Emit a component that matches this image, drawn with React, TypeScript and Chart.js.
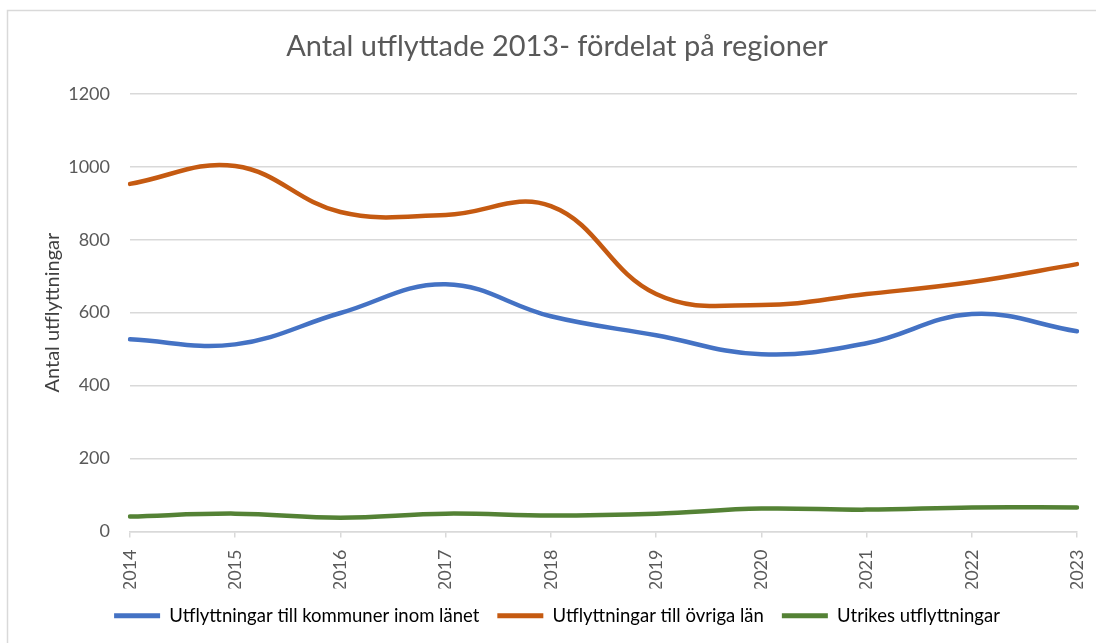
import React, { useEffect, useRef } from "react";
import { Chart, registerables } from "chart.js";

Chart.register(...registerables);

const years = ["2014", "2015", "2016", "2017", "2018", "2019", "2020", "2021", "2022", "2023"];
const inomLanet = [527, 513, 599, 678, 590, 538, 486, 516, 596, 549];
const ovrigaLan = [953, 1002, 876, 868, 892, 651, 621, 651, 684, 733];
const utrikes = [41, 49, 38, 49, 44, 49, 63, 60, 66, 66];
const yTicks = [0, 200, 400, 600, 800, 1000, 1200];

const FONT = "Lato, 'Open Sans', sans-serif";
const GRAY = "#595959";

const borderPlugin = {
  id: "outerBorder",
  beforeDraw(chart: any) {
    const ctx = chart.ctx;
    ctx.save();
    ctx.fillStyle = "#ffffff";
    ctx.fillRect(0, 0, chart.width, chart.height);
    ctx.strokeStyle = "#d9d9d9";
    ctx.lineWidth = 1.5;
    ctx.beginPath();
    ctx.moveTo(7.5, chart.height);
    ctx.lineTo(7.5, 10.5);
    ctx.lineTo(chart.width, 10.5);
    ctx.stroke();
    ctx.restore();
  },
};

export default function App() {
  const ref = useRef<HTMLCanvasElement>(null);
  useEffect(() => {
    document.body.style.margin = "0";
    const chart = new Chart(ref.current!, {
      type: "line",
      data: {
        labels: years,
        datasets: [
          { label: "Utflyttningar till kommuner inom länet", data: inomLanet, borderColor: "#4472c4", backgroundColor: "#4472c4" },
          { label: "Utflyttningar till övriga län", data: ovrigaLan, borderColor: "#c55a11", backgroundColor: "#c55a11" },
          { label: "Utrikes utflyttningar", data: utrikes, borderColor: "#548235", backgroundColor: "#548235" },
        ].map((d) => ({ ...d, borderWidth: 4.5, pointRadius: 0, tension: 0.4, borderCapStyle: "round" as const })),
      },
      options: {
        animation: false,
        responsive: false,
        layout: { padding: { top: 22, left: 37, right: 19, bottom: 8 } },
        plugins: {
          title: {
            display: true,
            text: "Antal utflyttade 2013- fördelat på regioner",
            color: GRAY,
            font: { family: FONT, size: 29, weight: "normal" },
            padding: { top: 7, bottom: 30 },
          },
          legend: {
            position: "bottom",
            labels: {
              color: GRAY,
              font: { family: FONT, size: 18.5 },
              boxWidth: 46,
              boxHeight: 5,
              padding: 18,
              generateLabels: (chart: any) =>
                chart.data.datasets.map((ds: any, i: number) => ({
                  text: ds.label,
                  fillStyle: ds.borderColor,
                  strokeStyle: ds.borderColor,
                  lineWidth: 0,
                  datasetIndex: i,
                })),
            },
          },
          tooltip: { enabled: false },
        },
        scales: {
          x: {
            grid: { display: true, drawOnChartArea: false, drawTicks: true, tickLength: 6, color: "#d9d9d9", lineWidth: 1.5 },
            border: { display: true, color: "#d9d9d9", width: 1.5 },
            offset: false,
            ticks: { color: GRAY, font: { family: FONT, size: 18 }, maxRotation: 90, minRotation: 90, padding: 12 },
            afterFit: (s: any) => { s.height = 57; s.paddingLeft = 0; s.paddingRight = 0; },
          },
          y: {
            min: 0,
            max: 1200,
            afterBuildTicks: (axis: any) => { axis.ticks = yTicks.map((v) => ({ value: v })); },
            afterFit: (s: any) => { s.width = 93; s.paddingTop = 0; s.paddingBottom = 0; },
            grid: { color: "#d9d9d9", lineWidth: 1.5, drawTicks: false },
            border: { display: false },
            ticks: { color: GRAY, font: { family: FONT, size: 18 }, padding: 20, callback: (v: any) => String(v) },
            title: { display: true, text: "Antal utflyttningar", color: "#404040", font: { family: FONT, size: 20 }, padding: { top: 4, bottom: 0 } },
          },
        },
      },
      plugins: [borderPlugin],
    } as any);
    return () => chart.destroy();
  }, []);
  return <canvas ref={ref} width={1096} height={643} style={{ display: "block" }} />;
}
